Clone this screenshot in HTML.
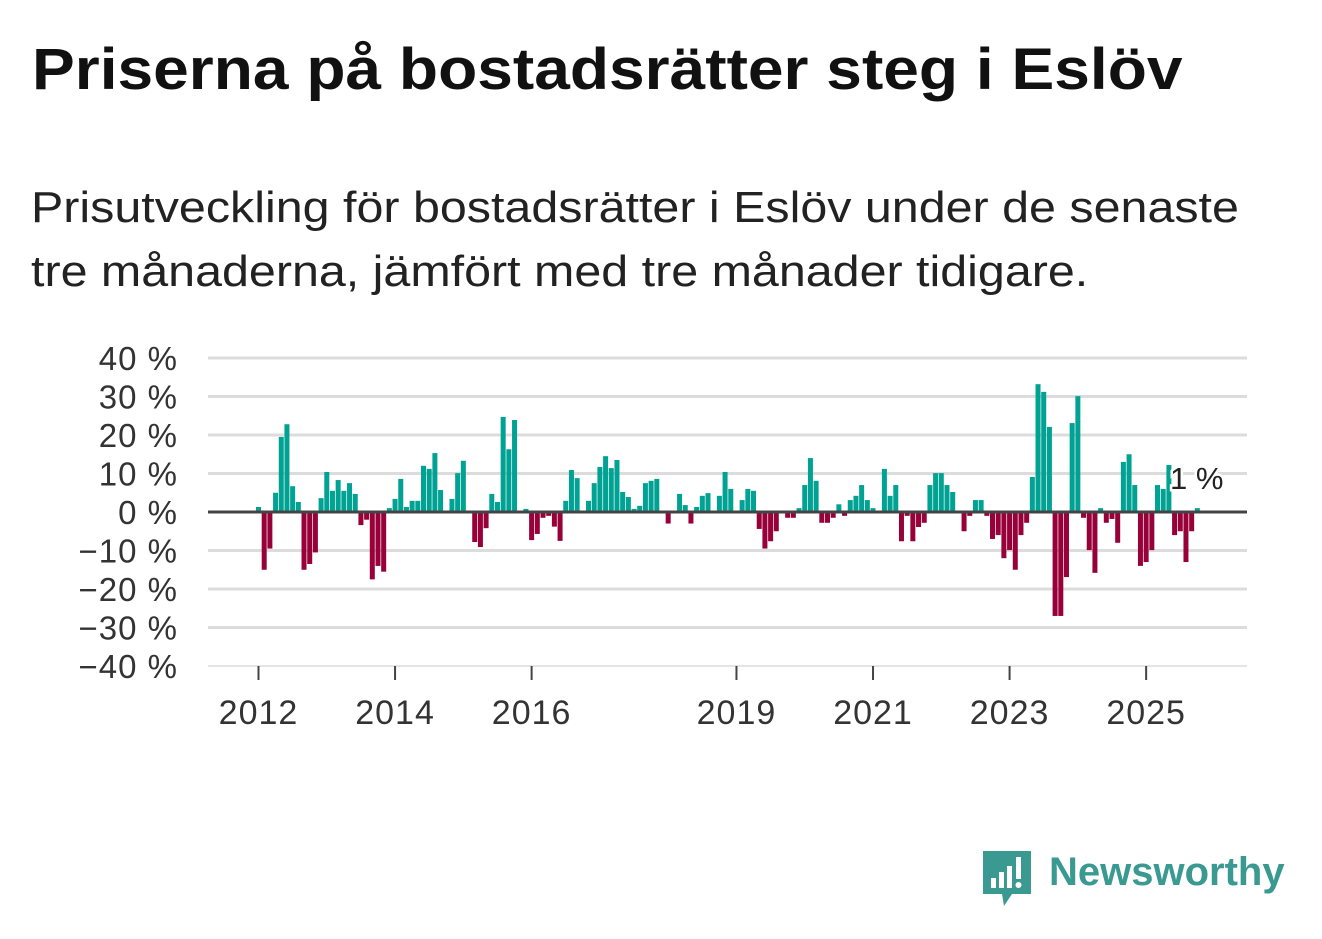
<!DOCTYPE html>
<html><head><meta charset="utf-8">
<style>
html,body{margin:0;padding:0;background:#fff;}
body{width:1322px;height:939px;position:relative;overflow:hidden;font-family:"Liberation Sans",sans-serif;}
#title{position:absolute;left:32px;top:36px;font-size:58px;font-weight:bold;color:#111;white-space:nowrap;transform:scaleX(1.105);transform-origin:left top;}
#subtitle{position:absolute;left:31px;top:176px;font-size:44px;line-height:64px;color:#222;white-space:nowrap;transform:scaleX(1.10);transform-origin:left top;}
svg{position:absolute;left:0;top:0;}
#logo{position:absolute;left:980px;top:848px;}
#logo-text{position:absolute;left:1049px;top:850px;font-size:40px;font-weight:bold;color:#3a9a92;}
</style></head><body>
<div id="title">Priserna på bostadsrätter steg i Eslöv</div>
<div id="subtitle">Prisutveckling för bostadsrätter i Eslöv under de senaste<br>tre månaderna, jämfört med tre månader tidigare.</div>
<svg id="chart" width="1322" height="939"></svg>
<svg id="logo" width="56" height="62" viewBox="0 0 56 62">
<path d="M3 3 H51 V46 H32 L24 58 L22 46 H3 Z" fill="#3a9a92"/>
<rect x="11" y="30" width="5" height="10" fill="#fff"/><rect x="19" y="24" width="5" height="16" fill="#fff"/><rect x="27" y="18" width="5" height="22" fill="#fff"/><rect x="36" y="9" width="5" height="22" fill="#fff"/><circle cx="38.5" cy="37" r="3" fill="#fff"/>
</svg>
<div id="logo-text">Newsworthy</div>
<script>
const values = [1.3,-15,-9.5,5,19.5,22.8,6.7,2.6,-15,-13.5,-10.5,3.6,10.4,5.5,8.3,5.5,7.5,4.7,-3.4,-2,-17.5,-14,-15.5,1,3.4,8.6,1.3,2.9,2.9,12,11.2,15.3,5.7,0,3.4,10.1,13.3,0,
-7.8,-9.1,-4.2,4.7,2.6,24.7,16.3,23.9,0,0.8,-7.3,-5.7,-1.5,-1,-3.8,-7.5,2.9,10.9,8.8,0,2.9,7.5,11.7,14.5,11.4,13.5,5.2,3.9,0.8,1.6,7.5,8.1,8.6,0,-3,0,4.7,1.8,-3,1.3,4.2,4.9,0,4.2,10.4,6,
0,3.1,6,5.5,-4.4,-9.5,-7.6,-5,0,-1.5,-1.5,1,7,14,8.1,-2.8,-2.8,-1.5,2,-1,3.1,4.2,7,3.1,1,0,11.2,4.2,7,-7.6,-1,-7.6,-3.9,-2.8,7,10.1,10.1,7,5.2,0,-5,-1,3.1,3.1,-1,
-7,-6,-12,-9.9,-15,-6,-2.8,9.1,33.2,31.2,22.1,-27,-27,-16.9,23.1,30.1,-1.5,-9.9,-15.8,1,-2.8,-1.8,-8,13,15,7,-14,-13,-9.9,7,6,12.2,-6,-5,-13,-5,1];
const startYear = 2012;
const yTicks = [40,30,20,10,0,-10,-20,-30,-40];
const xTickYears = [2012,2014,2016,2019,2021,2023,2025];
const svg = document.getElementById('chart');
const NS = 'http://www.w3.org/2000/svg';
const x = m => 258.5 + m*5.69;
const y = v => 512 - v*3.85;
function mk(tag, attrs){const e=document.createElementNS(NS,tag);for(const k in attrs)e.setAttribute(k,attrs[k]);svg.appendChild(e);return e;}
yTicks.forEach(t=>{
  const g = mk('line',{x1:208,x2:1247,y1:y(t),y2:y(t),stroke:t===0?'#fff':'#dcdcdc','stroke-width':t===-40?1.5:3});
  
  
  const tx = mk('text',{x:178,y:y(t)+12,'text-anchor':'end','font-size':33,'letter-spacing':1,fill:'#333','font-family':'Liberation Sans, sans-serif'});
  tx.textContent = (t<0?'\u2212'+(-t):t)+' %';
  
  
});
values.forEach((v,i)=>{
  if(v===0) return;
  const r = mk('rect',{x:x(i)-2.5,width:5,y:v>0?y(v):y(0),height:Math.abs(v)*3.85,fill:v>0?'#00a294':'#98003a'});
  
  
});
const zl = mk('line',{x1:208,x2:1247,y1:y(0),y2:y(0),stroke:'#444','stroke-width':3});


xTickYears.forEach(yr=>{
  const xx = x((yr-startYear)*12);
  const tk = mk('line',{x1:xx,x2:xx,y1:666,y2:680,stroke:'#444','stroke-width':2});
  
  
  const tl = mk('text',{x:xx,y:724,'text-anchor':'middle','font-size':34,'letter-spacing':1,fill:'#333','font-family':'Liberation Sans, sans-serif'});
  tl.textContent = yr;
  
  
});
const lab = mk('text',{x:1170,y:489,'font-size':31,fill:'#222',stroke:'#fff','stroke-width':5,'paint-order':'stroke','font-family':'Liberation Sans, sans-serif'});
lab.textContent = '1 %';


</script>
</body></html>
